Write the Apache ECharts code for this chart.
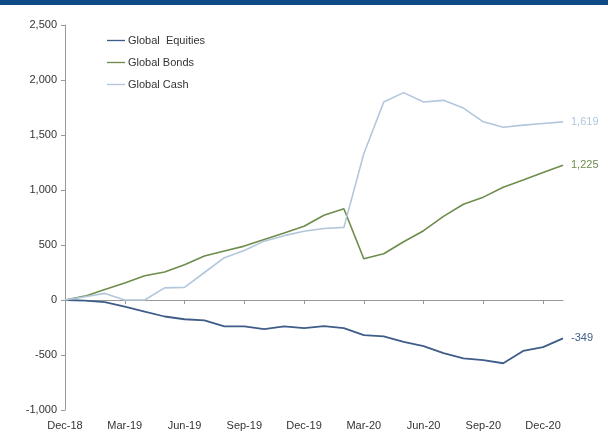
<!DOCTYPE html>
<html>
<head>
<meta charset="utf-8">
<script src="https://cdn.jsdelivr.net/npm/echarts@6/dist/echarts.min.js"></script>
<style>
html, body { margin: 0; padding: 0; background: #fff; }
#main { width: 608px; height: 439px; }
</style>
</head>
<body>
<div id="main"></div>
<script>
var months = ['Dec-18','Jan-19','Feb-19','Mar-19','Apr-19','May-19','Jun-19','Jul-19','Aug-19','Sep-19','Oct-19','Nov-19',
    'Dec-19','Jan-20','Feb-20','Mar-20','Apr-20','May-20','Jun-20','Jul-20','Aug-20','Sep-20','Oct-20','Nov-20','Dec-20','Jan-21'];
var equities = [0, -5, -20, -60, -105, -150, -175, -185, -240, -240, -265, -240,
    -255, -237, -255, -319, -330, -380, -420, -483, -530, -547, -575, -463, -428, -349];
var bonds = [0, 35, 95, 155, 220, 255, 320, 400, 445, 490, 550, 610,
    670, 770, 830, 375, 420, 530, 630, 760, 870, 935, 1025, 1090, 1160, 1225];
var cash = [0, 30, 60, 0, 0, 110, 115, 250, 385, 450, 535, 585,
    625, 650, 660, 1330, 1800, 1885, 1800, 1815, 1745, 1620, 1570, 1590, 1605, 1619];
var yTicks = [-1000, 500, 2500];   // min, interval, max

var fmt = function (v) {
    return v.toLocaleString('en-US');
};

var chart = echarts.init(document.getElementById('main'));

function line(name, data, color, w) {
    return {
        name: name,
        type: 'line',
        data: data,
        symbol: 'none',
        lineStyle: { color: color, width: w },
        itemStyle: { color: color },
        endLabel: {
            show: true,
            color: color,
            fontSize: 11,
            fontFamily: 'Liberation Sans',
            distance: 8,
            formatter: function (p) { return fmt(p.value); }
        }
    };
}

chart.setOption({
    animation: false,
    textStyle: { fontFamily: 'Liberation Sans' },
    graphic: [{
        type: 'rect',
        shape: { x: 0, y: 0, width: 608, height: 5 },
        style: { fill: '#0d4a86' }
    }],
    legend: {
        orient: 'vertical',
        left: 102,
        top: 30,
        itemGap: 11,
        itemWidth: 18,
        itemHeight: 14,
        icon: 'path://M0,6 L20,6 L20,7.5 L0,7.5 Z',
        textStyle: { fontSize: 11, color: '#333', padding: [0, 0, 0, -2] },
        data: ['Global  Equities', 'Global Bonds', 'Global Cash']
    },
    grid: { left: 65, right: 45, top: 25, bottom: 29 },
    xAxis: [{
        type: 'category',
        data: months,
        boundaryGap: false,
        axisLine: { onZero: true, lineStyle: { color: '#999' } },
        axisTick: { interval: 2, length: 4, lineStyle: { color: '#999' } },
        axisLabel: { show: false },
        splitLine: { show: false }
    }, {
        type: 'category',
        data: months,
        position: 'bottom',
        boundaryGap: false,
        axisLine: { show: false },
        axisTick: { show: false },
        axisLabel: { interval: 2, margin: 10, fontSize: 11, color: '#333' }
    }],
    yAxis: {
        type: 'value',
        min: yTicks[0],
        max: yTicks[2],
        interval: yTicks[1],
        axisLine: { show: true, lineStyle: { color: '#999' } },
        axisTick: { show: true, length: 4, lineStyle: { color: '#999' } },
        axisLabel: { fontSize: 11, color: '#333', margin: 8, formatter: fmt },
        splitLine: { show: false }
    },
    series: [
        line('Global  Equities', equities, '#3f5d88', 1.8),
        line('Global Bonds', bonds, '#6e8c4c', 1.6),
        line('Global Cash', cash, '#b2c6dc', 1.6)
    ]
});
</script>
</body>
</html>
